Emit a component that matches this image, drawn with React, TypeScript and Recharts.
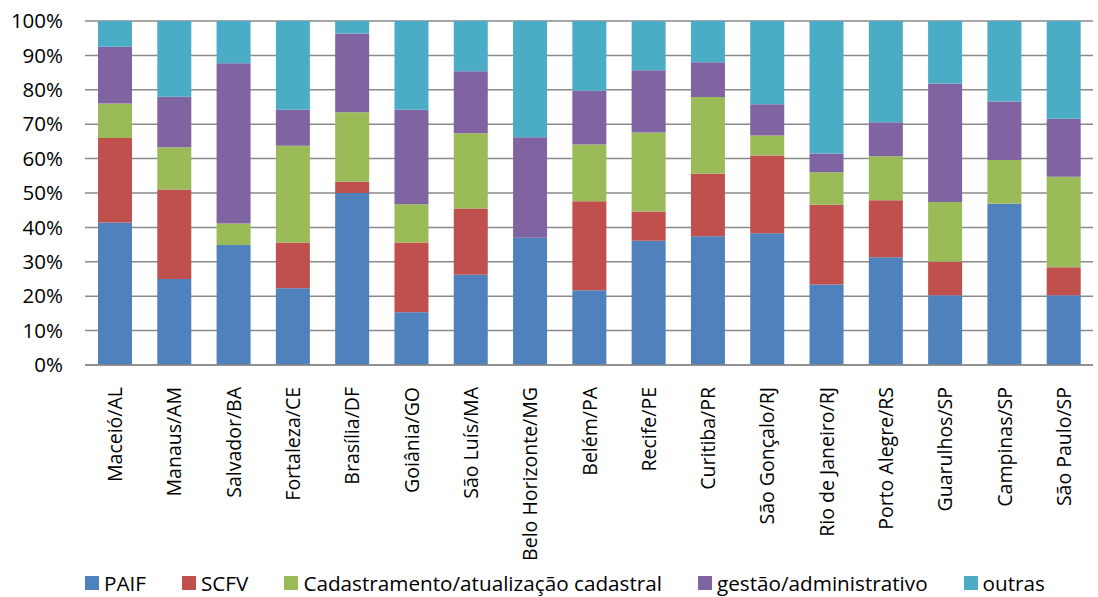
import React from 'react';
import { BarChart, Bar, XAxis, YAxis, CartesianGrid, Legend } from 'recharts';

const cities = [
  'Maceió/AL', 'Manaus/AM', 'Salvador/BA', 'Fortaleza/CE', 'Brasília/DF', 'Goiânia/GO',
  'São Luís/MA', 'Belo Horizonte/MG', 'Belém/PA', 'Recife/PE', 'Curitiba/PR', 'São Gonçalo/RJ',
  'Rio de Janeiro/RJ', 'Porto Alegre/RS', 'Guarulhos/SP', 'Campinas/SP', 'São Paulo/SP',
];

// share of each activity per city (%)
const paif = [41.4, 25.0, 34.9, 22.3, 50.0, 15.3, 26.2, 37.0, 21.7, 36.1, 37.4, 38.3, 23.4, 31.3, 20.3, 46.9, 20.3];
const scfv = [24.6, 26.0, 0, 13.3, 3.3, 20.3, 19.3, 0, 25.9, 8.5, 18.2, 22.6, 23.2, 16.6, 9.7, 0, 8.1];
const cadastro = [10.0, 12.3, 6.2, 28.1, 20.2, 11.1, 21.9, 0, 16.5, 23.0, 22.3, 5.8, 9.4, 12.8, 17.4, 12.7, 26.3];
const gestao = [16.5, 14.7, 46.6, 10.5, 22.9, 27.5, 18.0, 29.2, 15.6, 18.1, 10.1, 9.1, 5.5, 9.9, 34.4, 17.0, 16.9];
const outras = [7.5, 22.0, 12.3, 25.8, 3.6, 25.8, 14.6, 33.8, 20.3, 14.3, 12.0, 24.2, 38.5, 29.4, 18.2, 23.4, 28.4];

const yTicks = [0, 10, 20, 30, 40, 50, 60, 70, 80, 90, 100];

const series = [
  { key: 'paif', name: 'PAIF', color: '#4F81BD' },
  { key: 'scfv', name: 'SCFV', color: '#C0504D' },
  { key: 'cadastro', name: 'Cadastramento/atualização cadastral', color: '#9BBB59' },
  { key: 'gestao', name: 'gestão/administrativo', color: '#8064A2' },
  { key: 'outras', name: 'outras', color: '#4BACC6' },
];

const data = cities.map((city, i) => ({
  city,
  paif: paif[i],
  scfv: scfv[i],
  cadastro: cadastro[i],
  gestao: gestao[i],
  outras: outras[i],
}));

const FONT = '"Open Sans", sans-serif';

const CityTick = (props: any) => {
  const { x, y, payload } = props;
  return (
    <text
      x={0}
      y={0}
      transform={`translate(${x},${y + 14}) rotate(-90)`}
      textAnchor="end"
      dominantBaseline="central"
      fontSize={19.5}
      fontFamily={FONT}
      fill="#000"
    >
      {payload.value}
    </text>
  );
};

const LegendRow = () => (
  <div
    style={{
      display: 'flex',
      justifyContent: 'flex-start',
      paddingLeft: 85,
      paddingTop: 8,
      fontFamily: FONT,
      fontSize: 20.7,
      color: '#000',
      lineHeight: '24px',
    }}
  >
    {series.map((s) => (
      <div key={s.key} style={{ display: 'flex', alignItems: 'center', marginRight: 36 }}>
        <span style={{ width: 14, height: 14, background: s.color, marginRight: 5, display: 'inline-block' }} />
        <span>{s.name}</span>
      </div>
    ))}
  </div>
);

export default function App() {
  return (
    <div style={{ width: 1098, height: 597, background: '#fff' }}>
      <style>{'body{margin:0}'}</style>
      <BarChart
        width={1098}
        height={597}
        data={data}
        margin={{ top: 21, right: 5, left: 0, bottom: 0 }}
        barSize={34}
      >
        <CartesianGrid vertical={false} stroke="#8a8a8a" strokeWidth={1.5} />
        <XAxis
          dataKey="city"
          interval={0}
          height={198}
          tickLine={false}
          axisLine={{ stroke: '#8a8a8a', strokeWidth: 1.5 }}
          tick={<CityTick />}
        />
        <YAxis
          width={85}
          domain={[0, 100]}
          ticks={yTicks}
          axisLine={false}
          tickLine={false}
          tickSize={0}
          tickMargin={22}
          tickFormatter={(v: number) => `${v}%`}
          tick={{ fontSize: 20.5, fontFamily: FONT, fill: '#000' }}
        />
        <Legend verticalAlign="bottom" height={34} content={<LegendRow />} />
        {series.map((s) => (
          <Bar key={s.key} dataKey={s.key} name={s.name} stackId="a" fill={s.color} isAnimationActive={false} />
        ))}
      </BarChart>
    </div>
  );
}
